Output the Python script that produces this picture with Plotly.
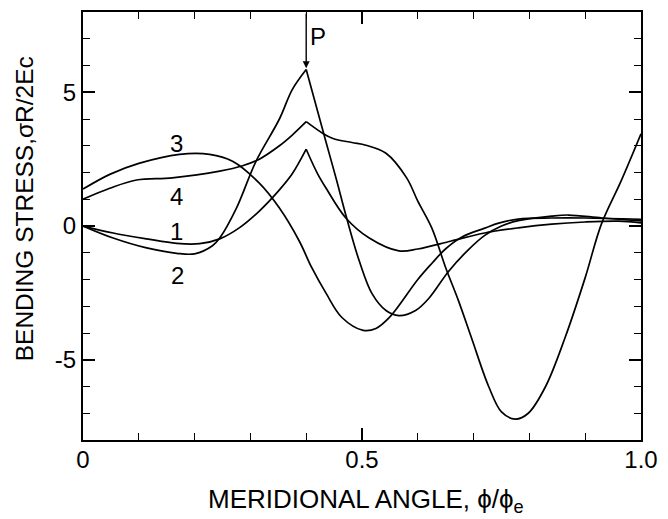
import plotly.graph_objects as go

# Meridional angle phi/phi_e and bending stress sigma*R/(2*E*c) for four cases
x1 = [0.0, 0.054, 0.114, 0.168, 0.209, 0.245, 0.28, 0.316, 0.352, 0.375, 0.4,
      0.42, 0.436, 0.471, 0.513, 0.566, 0.6, 0.66, 0.72, 0.78, 0.84, 0.9, 0.96, 1.0]
y1 = [0.0, -0.26, -0.48, -0.65, -0.66, -0.48, -0.07, 0.56, 1.35, 1.95, 2.87,
      1.97, 1.4, 0.3, -0.45, -0.93, -0.86, -0.56, -0.26, -0.07, 0.07, 0.15, 0.18, 0.12]

x2 = [0.0, 0.054, 0.114, 0.168, 0.2, 0.232, 0.245, 0.275, 0.31, 0.352, 0.375, 0.4,
      0.436, 0.454, 0.473, 0.495, 0.518, 0.543, 0.566, 0.596, 0.62, 0.655, 0.69,
      0.72, 0.75, 0.78, 0.84, 0.87, 0.93, 1.0]
y2 = [0.0, -0.45, -0.82, -1.02, -1.04, -0.74, -0.45, 0.67, 2.42, 4.0, 5.1, 5.85,
      3.1, 1.75, 0.26, -1.3, -2.53, -3.16, -3.35, -3.16, -2.7, -1.7, -0.9,
      -0.35, 0.0, 0.2, 0.37, 0.41, 0.3, 0.19]

x3 = [0.0, 0.048, 0.1, 0.173, 0.227, 0.268, 0.316, 0.352, 0.3875, 0.41, 0.436,
      0.464, 0.502, 0.525, 0.55, 0.6, 0.625, 0.65, 0.68, 0.72, 0.745, 0.78, 0.84, 0.9, 1.0]
y3 = [1.38, 1.93, 2.34, 2.68, 2.68, 2.42, 1.6, 0.67, -0.56, -1.56, -2.53,
      -3.42, -3.9, -3.83, -3.4, -2.0, -1.4, -0.85, -0.4, -0.08, 0.11, 0.26, 0.3, 0.3, 0.25]

x4 = [0.0, 0.048, 0.096, 0.16, 0.245, 0.286, 0.316, 0.352, 0.375, 0.4,
      0.43, 0.448, 0.482, 0.507, 0.543, 0.58, 0.6, 0.625, 0.65, 0.673, 0.696,
      0.727, 0.75, 0.775, 0.798, 0.829, 0.864, 0.9, 0.929, 0.964, 1.0]
y4 = [1.0, 1.41, 1.72, 1.8, 2.05, 2.25, 2.5, 3.0, 3.4, 3.9,
      3.46, 3.27, 3.12, 3.02, 2.72, 1.8, 0.93, -0.07, -1.56, -2.8, -4.17,
      -6.0, -6.95, -7.22, -7.0, -6.0, -4.17, -1.93, 0.07, 1.67, 3.45]

series = [(x1, y1, True), (x2, y2, True), (x3, y3, False), (x4, y4, True)]
cusp_x = 0.4  # load point P: curves with a kink there are drawn as two smooth pieces

curve_labels = ["1", "2", "3", "4"]
label_x = [0.168, 0.17, 0.168, 0.168]
label_y = [-0.19, -1.86, 3.09, 1.12]

x_tickvals = [0, 0.5, 1.0]
x_ticktext = ["0", "0.5", "1.0"]
y_tickvals = [-5, 0, 5]
y_ticktext = ["-5", "0", "5"]

p_value = 5.85

fig = go.Figure()
line_style = dict(color="black", width=1.7, shape="spline", smoothing=1.0)
for xs, ys, kinked in series:
    if kinked:
        k = xs.index(cusp_x)
        pieces = [(xs[:k + 1], ys[:k + 1]), (xs[k:], ys[k:])]
    else:
        pieces = [(xs, ys)]
    for px_, py_ in pieces:
        fig.add_trace(go.Scatter(x=px_, y=py_, mode="lines", line=line_style,
                                 hoverinfo="skip", showlegend=False))

font_family = "Liberation Sans, Arial, sans-serif"
annotations = []
for t, lx, ly in zip(curve_labels, label_x, label_y):
    annotations.append(dict(x=lx, y=ly, xref="x", yref="y", text=t, showarrow=False,
                            font=dict(size=24, family=font_family, color="black")))

# Arrow marking the load point P
annotations.append(dict(x=cusp_x, y=p_value + 0.05, xref="x", yref="y",
                        ax=cusp_x, ay=8.0, axref="x", ayref="y", text="",
                        showarrow=True, arrowhead=2, arrowsize=1.0, arrowwidth=1.4,
                        arrowcolor="black", standoff=0))
annotations.append(dict(x=0.421, y=7.07, xref="x", yref="y", text="P", showarrow=False,
                        font=dict(size=24, family=font_family, color="black")))

# Axis titles
annotations.append(dict(x=-0.105, y=0.54, xref="paper", yref="paper",
                        text="BENDING STRESS,\u03c3R/2Ec", textangle=-90,
                        showarrow=False, xanchor="center", yanchor="middle",
                        font=dict(size=24.5, family=font_family, color="black")))
annotations.append(dict(x=0.507, y=-0.142, xref="paper", yref="paper",
                        text="MERIDIONAL ANGLE, \u03d5/\u03d5<sub>e</sub>",
                        showarrow=False, xanchor="center", yanchor="middle",
                        font=dict(size=26, family=font_family, color="black")))

axis_common = dict(showgrid=False, zeroline=False, showline=True, linewidth=2,
                   linecolor="black", mirror="allticks", ticks="inside", ticklen=12,
                   tickwidth=1.5, tickcolor="black",
                   tickfont=dict(size=24, family=font_family, color="black"))

fig.update_layout(
    width=668, height=519,
    margin=dict(l=83, r=25, t=10, b=79),
    plot_bgcolor="white", paper_bgcolor="white",
    showlegend=False,
    annotations=annotations,
    xaxis=dict(range=[0, 1], tickmode="array", tickvals=x_tickvals, ticktext=x_ticktext,
               ticklabelstandoff=-3,
               minor=dict(tickmode="linear", tick0=0, dtick=0.1, ticks="inside",
                          ticklen=7, tickwidth=1.2, tickcolor="black", showgrid=False),
               **axis_common),
    yaxis=dict(range=[-8, 8], tickmode="array", tickvals=y_tickvals, ticktext=y_ticktext,
               minor=dict(tickmode="linear", tick0=0, dtick=1, ticks="inside",
                          ticklen=7, tickwidth=1.2, tickcolor="black", showgrid=False),
               **axis_common),
)

fig.write_html("out.html")
